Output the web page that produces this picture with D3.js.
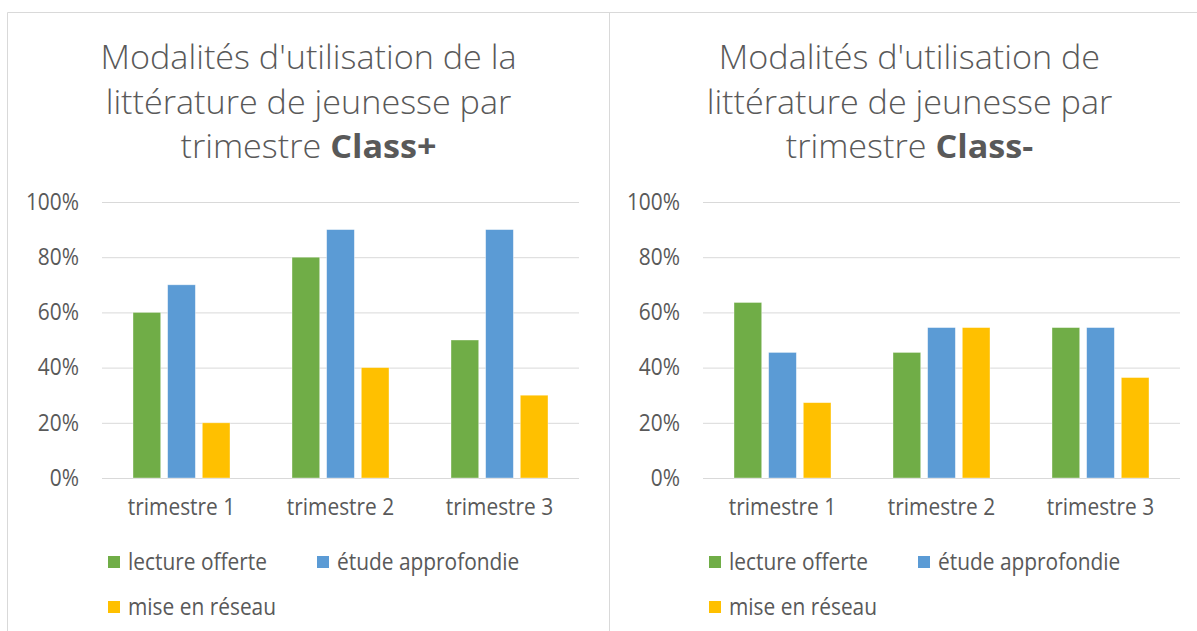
<!DOCTYPE html>
<html>
<head>
<meta charset="utf-8">
<title>Modalités d'utilisation de la littérature de jeunesse</title>
<script src="https://d3js.org/d3.v7.min.js"></script>
<style>
  body { margin: 0; background: #fff; }
  text { font-family: "Open Sans", "Noto Sans", sans-serif; fill: #595959; }
</style>
</head>
<body>
<svg id="chart" width="1197" height="631"></svg>
<script>
// data
const categories = ["trimestre 1", "trimestre 2", "trimestre 3"];
const seriesNames = ["lecture offerte", "étude approfondie", "mise en réseau"];
const seriesColors = ["#70AD47", "#5B9BD5", "#FFC000"];
const yTicks = [0, 0.2, 0.4, 0.6, 0.8, 1];

// Class+
const plusLecture = [0.60, 0.80, 0.50];
const plusEtude   = [0.70, 0.90, 0.90];
const plusReseau  = [0.20, 0.40, 0.30];

// Class-
const minusLecture = [0.636, 0.455, 0.545];
const minusEtude   = [0.455, 0.545, 0.545];
const minusReseau  = [0.273, 0.545, 0.364];

const svg = d3.select("#chart");
svg.append("rect").attr("width", 1197).attr("height", 631).attr("fill", "#fff");

// frame around the two charts
svg.append("path")
  .attr("d", "M7.5,640 V12.5 H1210 M609.5,12.5 V640")
  .attr("fill", "none").attr("stroke", "#d9d9d9").attr("stroke-width", 1);

const SMALL = "23px", TITLE = "32.5px";

// how much Open Sans must be squeezed to get the Calibri widths of the original
function measure(str, size, weight) {
  const t = svg.append("text").style("font-size", size).style("font-weight", weight).text(str);
  const w = t.node().getComputedTextLength();
  t.remove();
  return w;
}
const kSmall = 139 / measure("lecture offerte", SMALL, 400);
const kTitle = 416 / measure("Modalités d'utilisation de la", TITLE, 300);

function squeeze(sel, k) {
  sel.each(function () {
    const w = this.getComputedTextLength();
    d3.select(this).attr("textLength", w * k).attr("lengthAdjust", "spacingAndGlyphs");
  });
}

function drawChart(left, titleLines, boldPart, values) {
  const g = svg.append("g").attr("transform", `translate(${left},0)`);
  const cx = 300.5;

  // title
  const t = g.append("g").attr("class", "title");
  titleLines.forEach((line, i) => {
    const ty = 69 + i * 44.5;
    if (i < titleLines.length - 1) {
      const txt = t.append("text").attr("x", cx).attr("y", ty).attr("text-anchor", "middle")
        .style("font-size", TITLE).style("font-weight", 300).text(line);
      squeeze(txt, kTitle);
    } else {
      // last line: normal word then bold class name
      const a = t.append("text").attr("y", ty).style("font-size", TITLE).style("font-weight", 300)
        .text(line);
      const b = t.append("text").attr("y", ty).style("font-size", TITLE).style("font-weight", 700)
        .text(boldPart);
      const wa = a.node().getComputedTextLength() * kTitle;
      const wb = b.node().getComputedTextLength() * kTitle;
      const gap = 9;
      const x0 = cx - (wa + gap + wb) / 2;
      a.attr("x", x0);
      b.attr("x", x0 + wa + gap);
      squeeze(a, kTitle);
      squeeze(b, kTitle);
    }
  });

  const y = d3.scaleLinear().domain([0, 1]).range([478, 202]);
  const x0 = d3.scaleBand().domain(categories).range([94, 571]);
  const x1 = d3.scaleBand().domain(seriesNames).range([31, 128]).paddingInner(0.2);

  // gridlines + y labels
  const yAxis = d3.axisLeft(y).tickValues(yTicks).tickSize(-(571 - 94))
    .tickFormat(d3.format(".0%")).tickPadding(23);
  const ya = g.append("g").attr("transform", "translate(94,0)").call(yAxis);
  ya.select(".domain").remove();
  ya.selectAll(".tick line").attr("stroke", "#d9d9d9").attr("stroke-width", 1);
  ya.selectAll(".tick text").style("font-size", SMALL).attr("fill", "#595959")
    .style("font-family", null);
  squeeze(ya.selectAll(".tick text"), kSmall);

  // bars
  const groups = g.selectAll("g.cat").data(categories).enter().append("g")
    .attr("class", "cat")
    .attr("transform", d => `translate(${x0(d)},0)`);
  groups.selectAll("rect")
    .data((c, ci) => seriesNames.map((s, si) => ({ s, si, v: values[si][ci] })))
    .enter().append("rect")
    .attr("x", d => x1(d.s))
    .attr("width", x1.bandwidth())
    .attr("y", d => y(d.v))
    .attr("height", d => y(0) - y(d.v))
    .attr("fill", d => seriesColors[d.si])
    .attr("stroke", "#fff").attr("stroke-opacity", 0.5).attr("stroke-width", 0.75);

  // x labels
  const xa = g.append("g").attr("transform", "translate(0,478)")
    .call(d3.axisBottom(x0).tickSize(0).tickPadding(21));
  xa.select(".domain").remove();
  xa.selectAll(".tick text").style("font-size", SMALL).attr("fill", "#595959")
    .attr("dy", "0.71em");
  squeeze(xa.selectAll(".tick text"), kSmall);

  // legend
  const legendPos = [[100, 562], [309, 562], [100, 607]];
  const lg = g.append("g").attr("class", "legend");
  seriesNames.forEach((s, i) => {
    const [lx, ly] = legendPos[i];
    lg.append("rect").attr("x", lx).attr("y", ly - 6).attr("width", 12).attr("height", 12)
      .attr("fill", seriesColors[i]);
    lg.append("text").attr("x", lx + 20).attr("y", ly).attr("dy", "0.35em")
      .style("font-size", SMALL).text(s);
  });
  squeeze(lg.selectAll("text"), kSmall);
}

drawChart(8, ["Modalités d'utilisation de la", "littérature de jeunesse par", "trimestre"], "Class+",
  [plusLecture, plusEtude, plusReseau]);
drawChart(609, ["Modalités d'utilisation de", "littérature de jeunesse par", "trimestre"], "Class-",
  [minusLecture, minusEtude, minusReseau]);
</script>
</body>
</html>
